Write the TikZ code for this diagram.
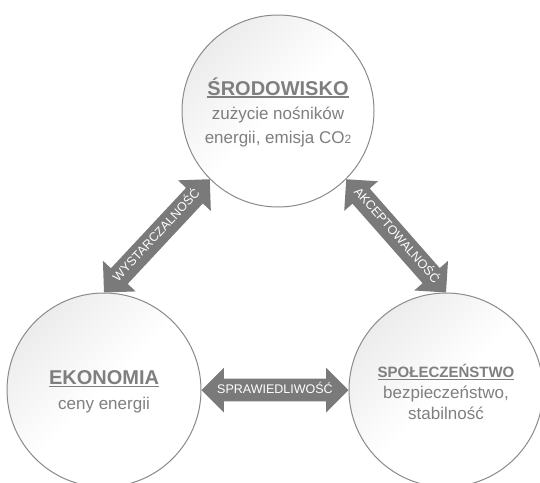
\documentclass[tikz,border=0pt]{standalone}
\usepackage{fontspec}
\setmainfont{Liberation Sans}
\usetikzlibrary{shapes.arrows,calc}
\definecolor{txtgray}{HTML}{7F7F7F}
\definecolor{bordergray}{HTML}{8A8A8A}
\definecolor{arrowgray}{HTML}{7A7A7A}
\definecolor{shadegray}{HTML}{ECECEC}
\newcommand\myul[1]{\leavevmode\vtop{\hbox{#1}\kern1.2pt\hrule height 1.3pt}}
\begin{document}
\begin{tikzpicture}[x=1pt,y=-1pt,
  bubble/.style={circle, draw=bordergray, line width=1pt, inner sep=0pt,
    top color=shadegray, bottom color=white, middle color=white, shading angle=45},
  bubbletext/.style={text=txtgray, align=center, inner sep=0pt},
  link/.style={double arrow, fill=arrowgray, text=white,
    font=\fontsize{12.5}{13}\selectfont, inner xsep=0pt, inner ysep=5.5pt,
    text height=9pt, text depth=2.5pt, double arrow head extend=11pt,
    double arrow tip angle=90}
]
\useasboundingbox (0,0) rectangle (540,482);
\node[bubble, minimum size=192pt] (sro) at (278,111) {};
\node[bubble, minimum size=194pt] (eko) at (104,390) {};
\node[bubble, minimum size=194pt] (spo) at (446,390) {};

\node[bubbletext, font=\fontsize{17}{24}\selectfont] (srot) at (278,112)
  {{\fontsize{20}{24}\selectfont\bfseries\myul{ŚRODOWISKO}}\\
   zużycie nośników\\
   energii, emisja CO{\fontsize{12}{12}\selectfont 2}};
\node[bubbletext, font=\fontsize{17}{25}\selectfont] (ekot) at (104,392)
  {{\fontsize{20}{25}\selectfont\bfseries\myul{EKONOMIA}}\\
   ceny energii};
\node[bubbletext, font=\fontsize{17}{21}\selectfont] (spot) at (446,392)
  {{\fontsize{15}{21}\selectfont\bfseries\myul{SPOŁECZEŃSTWO}}\\
   bezpieczeństwo,\\
   stabilność};

\path let \p1=($(sro.225)-(eko.north)$), \n1={atan2(\y1,\x1)}, \n2={veclen(\x1,\y1)} in
  node[link, rotate=\n1, minimum height=\n2] (wys) at ($(eko.north)!0.5!(sro.225)$) {WYSTARCZALNOŚĆ};
\path let \p1=($(spo.north)-(sro.315)$), \n1={atan2(\y1,\x1)}, \n2={veclen(\x1,\y1)} in
  node[link, rotate=\n1, minimum height=\n2] (akc) at ($(sro.315)!0.5!(spo.north)$) {AKCEPTOWALNOŚĆ};
\path let \p1=($(spo.west)-(eko.east)$), \n2={veclen(\x1,\y1)} in
  node[link, minimum height=\n2] (spr) at ($(eko.east)!0.5!(spo.west)$) {SPRAWIEDLIWOŚĆ};
\end{tikzpicture}
\end{document}
